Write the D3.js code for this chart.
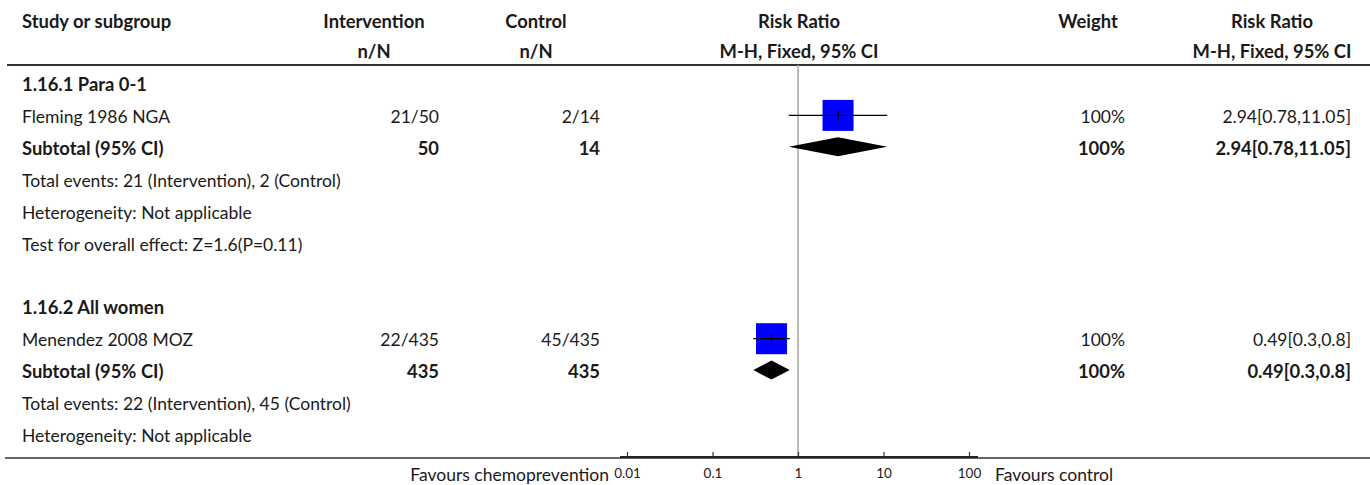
<!DOCTYPE html>
<html>
<head>
<meta charset="utf-8">
<script src="https://cdn.jsdelivr.net/npm/d3@7"></script>
<style>
  body { margin: 0; background: #fff; }
  svg { display: block; }
  text { font-family: Lato, "Noto Sans", sans-serif; fill: #1a1a1a; }
</style>
</head>
<body>
<svg id="chart" width="1370" height="485"></svg>
<script>
// ---- data ----
const subgroupLabels = ["1.16.1 Para 0-1", "1.16.2 All women"];
const studyNames = ["Fleming 1986 NGA", "Menendez 2008 MOZ"];
const interventionEvents = [21, 22];
const interventionTotals = [50, 435];
const controlEvents = [2, 45];
const controlTotals = [14, 435];
const riskRatio = [2.94, 0.49];
const ciLow = [0.78, 0.3];
const ciHigh = [11.05, 0.8];
const studyWeights = [100, 100];
const subtotalRatio = [2.94, 0.49];
const subtotalLow = [0.78, 0.3];
const subtotalHigh = [11.05, 0.8];
const subtotalWeights = [100, 100];
const heterogeneityText = ["Not applicable", "Not applicable"];
const overallEffectText = ["Z=1.6(P=0.11)", null];
const axisTicks = [0.01, 0.1, 1, 10, 100];
const favoursLeft = "Favours chemoprevention";
const favoursRight = "Favours control";

// ---- layout ----
const svg = d3.select("#chart");
const W = 1370;
const col = {
  study: 22,
  intvRight: 439, intvCenter: 374,
  ctrlRight: 600, ctrlCenter: 536,
  plotCenter: 799,
  weightRight: 1125, weightCenter: 1088,
  rrRight: 1351, rrCenter: 1272
};
const fontSize = 17.5;
const boldSize = 18.4;
const headerLineY = 65;
const axisY = 457;

const x = d3.scaleLog().domain([0.01, 100]).range([627, 969]);
const boxSize = d3.scaleSqrt().domain([0, 100]).range([0, 31]);
const rowY = d3.scaleLinear().domain([0, 1]).range([91, 122.9]); // text baseline by row index

// build the row list
const rows = [];
subgroupLabels.forEach((label, g) => {
  rows.push({ type: "group", text: label });
  rows.push({ type: "study", g });
  rows.push({ type: "subtotal", g });
  rows.push({ type: "note", text: `Total events: ${interventionEvents[g]} (Intervention), ${controlEvents[g]} (Control)` });
  rows.push({ type: "note", text: `Heterogeneity: ${heterogeneityText[g]}` });
  if (overallEffectText[g]) rows.push({ type: "note", text: `Test for overall effect: ${overallEffectText[g]}` });
  if (g < subgroupLabels.length - 1) rows.push({ type: "blank" });
});

function txt(xp, yp, s, opts = {}) {
  return svg.append("text")
    .attr("x", xp).attr("y", yp)
    .attr("text-anchor", opts.anchor || "start")
    .attr("font-size", opts.size || (opts.bold ? boldSize : fontSize))
    .attr("font-weight", opts.bold ? 700 : 400)
    .text(s);
}
const fmtCI = (r, l, h) => `${r}[${l},${h}]`;

// ---- header ----
const h1 = 28, h2 = 58;
txt(col.study, h1, "Study or subgroup", { bold: true });
txt(col.intvCenter, h1, "Intervention", { bold: true, anchor: "middle" });
txt(col.intvCenter, h2, "n/N", { bold: true, anchor: "middle" });
txt(col.ctrlCenter, h1, "Control", { bold: true, anchor: "middle" });
txt(col.ctrlCenter, h2, "n/N", { bold: true, anchor: "middle" });
txt(col.plotCenter, h1, "Risk Ratio", { bold: true, anchor: "middle" });
txt(col.plotCenter, h2, "M-H, Fixed, 95% CI", { bold: true, anchor: "middle" });
txt(col.weightCenter, h1, "Weight", { bold: true, anchor: "middle" });
txt(col.rrCenter, h1, "Risk Ratio", { bold: true, anchor: "middle" });
txt(col.rrCenter, h2, "M-H, Fixed, 95% CI", { bold: true, anchor: "middle" });

svg.append("line")
  .attr("x1", 7).attr("x2", W).attr("y1", headerLineY).attr("y2", headerLineY)
  .attr("stroke", "#333").attr("stroke-width", 2);

// line of no effect
svg.append("line")
  .attr("x1", x(1)).attr("x2", x(1)).attr("y1", headerLineY).attr("y2", axisY)
  .attr("stroke", "#a6a6a6").attr("stroke-width", 1.5);

// ---- rows ----
rows.forEach((r, i) => {
  const y = rowY(i);
  const cy = y - 7.5;
  if (r.type === "group") {
    txt(col.study, y, r.text, { bold: true });
  } else if (r.type === "note") {
    txt(col.study, y, r.text);
  } else if (r.type === "study") {
    const g = r.g;
    txt(col.study, y, studyNames[g]);
    txt(col.intvRight, y, `${interventionEvents[g]}/${interventionTotals[g]}`, { anchor: "end" });
    txt(col.ctrlRight, y, `${controlEvents[g]}/${controlTotals[g]}`, { anchor: "end" });
    txt(col.weightRight, y, `${studyWeights[g]}%`, { anchor: "end" });
    txt(col.rrRight, y, fmtCI(riskRatio[g], ciLow[g], ciHigh[g]), { anchor: "end" });
    const s = boxSize(studyWeights[g]);
    svg.append("rect")
      .attr("x", x(riskRatio[g]) - s / 2).attr("y", cy - s / 2)
      .attr("width", s).attr("height", s)
      .attr("fill", "#0000ff");
    svg.append("line")
      .attr("x1", x(ciLow[g])).attr("x2", x(ciHigh[g]))
      .attr("y1", cy).attr("y2", cy)
      .attr("stroke", "#000").attr("stroke-width", 1.3);
    svg.append("line")
      .attr("x1", x(riskRatio[g])).attr("x2", x(riskRatio[g]))
      .attr("y1", cy - 5).attr("y2", cy + 5)
      .attr("stroke", "#000").attr("stroke-width", 1.5);
  } else if (r.type === "subtotal") {
    const g = r.g;
    txt(col.study, y, "Subtotal (95% CI)", { bold: true });
    txt(col.intvRight, y, `${interventionTotals[g]}`, { anchor: "end", bold: true });
    txt(col.ctrlRight, y, `${controlTotals[g]}`, { anchor: "end", bold: true });
    txt(col.weightRight, y, `${subtotalWeights[g]}%`, { anchor: "end", bold: true });
    txt(col.rrRight, y, fmtCI(subtotalRatio[g], subtotalLow[g], subtotalHigh[g]), { anchor: "end", bold: true });
    const dy = cy - 0.5, hh = 9.5;
    const pts = [
      [x(subtotalLow[g]), dy],
      [x(subtotalRatio[g]), dy - hh],
      [x(subtotalHigh[g]), dy],
      [x(subtotalRatio[g]), dy + hh]
    ];
    svg.append("polygon").attr("points", pts.map(p => p.join(",")).join(" ")).attr("fill", "#000");
  }
});

// ---- bottom rule and axis ----
svg.append("line")
  .attr("x1", 5).attr("x2", W).attr("y1", axisY + 1).attr("y2", axisY + 1)
  .attr("stroke", "#333").attr("stroke-width", 1.5);

const axis = d3.axisBottom(x)
  .tickValues(axisTicks)
  .tickFormat(d => String(d))
  .tickSizeInner(-5)
  .tickSizeOuter(0)
  .tickPadding(11);
const ax = svg.append("g").attr("transform", `translate(0,${axisY})`).call(axis);
ax.select(".domain").remove();
ax.selectAll(".tick line").attr("stroke", "#333").attr("stroke-width", 1.2);
ax.selectAll(".tick text").attr("font-size", 13.5).attr("font-family", "Lato, sans-serif").attr("fill", "#333");
svg.append("line")
  .attr("x1", x(0.01) - 7).attr("x2", x(100) + 9).attr("y1", axisY).attr("y2", axisY)
  .attr("stroke", "#222").attr("stroke-width", 2);

txt(609, 481, favoursLeft, { anchor: "end" });
txt(995, 481, favoursRight);
</script>
</body>
</html>
